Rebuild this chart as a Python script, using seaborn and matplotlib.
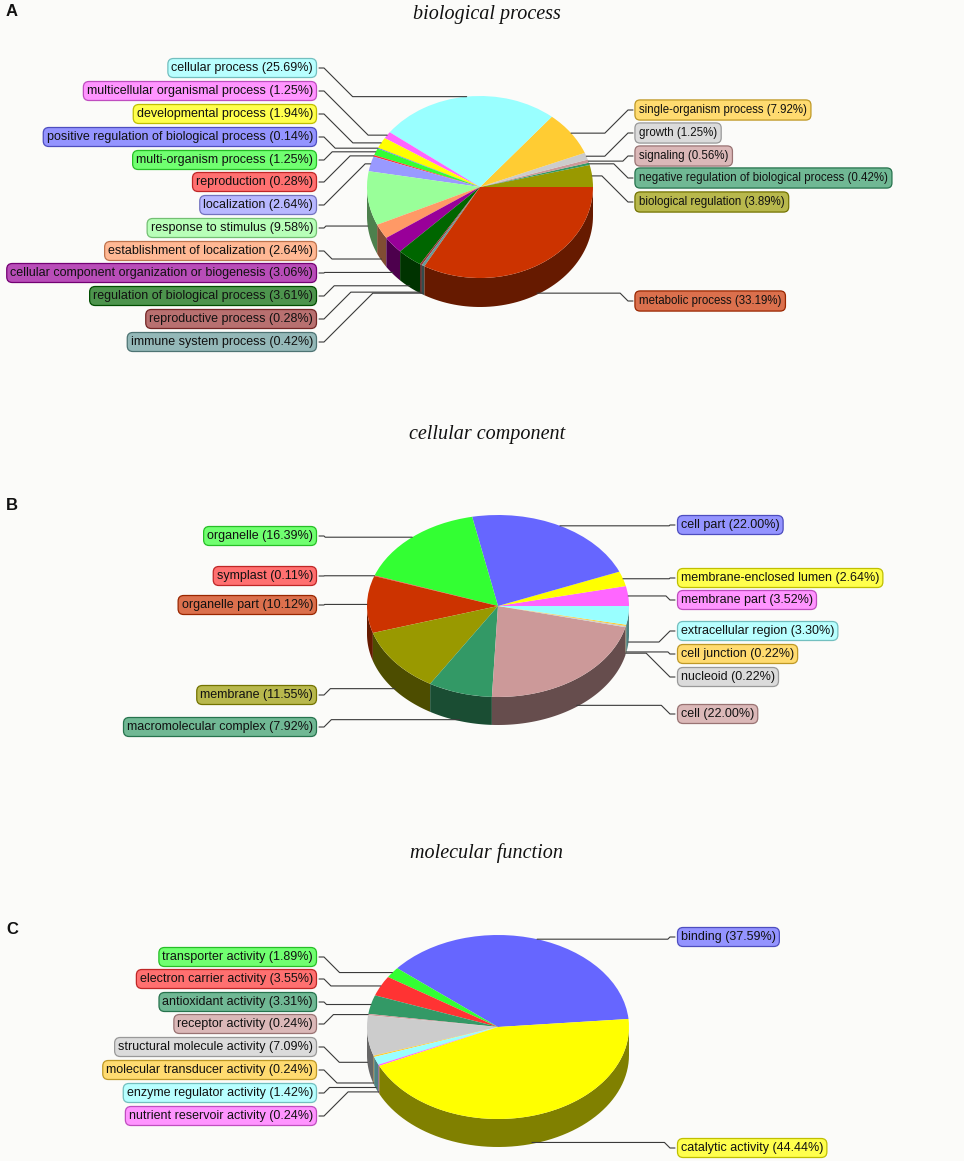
import numpy as np
import matplotlib
matplotlib.use("Agg")
import matplotlib.pyplot as plt
import seaborn as sns
from matplotlib.patches import Polygon
from matplotlib.colors import to_rgb

# ---- data (pie order: counter-clockwise from the start angle) ----
bp_names = ["biological regulation", "negative regulation of biological process", "signaling",
            "growth", "single-organism process", "cellular process",
            "multicellular organismal process", "developmental process",
            "positive regulation of biological process", "multi-organism process",
            "reproduction", "localization", "response to stimulus",
            "establishment of localization", "cellular component organization or biogenesis",
            "regulation of biological process", "reproductive process",
            "immune system process", "metabolic process"]
bp_values = [3.89, 0.42, 0.56, 1.25, 7.92, 25.69, 1.25, 1.94, 0.14, 1.25,
             0.28, 2.64, 9.58, 2.64, 3.06, 3.61, 0.28, 0.42, 33.19]
bp_colors = ["#999900", "#339966", "#cc9999", "#cccccc", "#ffcc33", "#99ffff",
             "#ff66ff", "#ffff00", "#6666ff", "#33ff33", "#ff3333", "#9999ff",
             "#99ff99", "#ff9966", "#990099", "#006600", "#993333", "#669999", "#cc3300"]

cc_names = ["membrane part", "membrane-enclosed lumen", "cell part", "organelle",
            "symplast", "organelle part", "membrane", "macromolecular complex",
            "cell", "nucleoid", "cell junction", "extracellular region"]
cc_values = [3.52, 2.64, 22.00, 16.39, 0.11, 10.12, 11.55, 7.92, 22.00, 0.22, 0.22, 3.30]
cc_colors = ["#ff66ff", "#ffff00", "#6666ff", "#33ff33", "#ff3333", "#cc3300",
             "#999900", "#339966", "#cc9999", "#cccccc", "#ffcc33", "#99ffff"]

mf_names = ["binding", "transporter activity", "electron carrier activity",
            "antioxidant activity", "receptor activity", "structural molecule activity",
            "molecular transducer activity", "enzyme regulator activity",
            "nutrient reservoir activity", "catalytic activity"]
mf_values = [37.59, 1.89, 3.55, 3.31, 0.24, 7.09, 0.24, 1.42, 0.24, 44.44]
mf_colors = ["#6666ff", "#33ff33", "#ff3333", "#339966", "#cc9999", "#cccccc",
             "#ffcc33", "#99ffff", "#ff66ff", "#ffff00"]

# ---- label layout (side of the pie and row in pixels) ----
bp_side = ["R"] * 5 + ["L"] * 13 + ["R"]
bp_row = [202, 178, 156, 133, 110, 68, 91, 114, 137, 160, 182, 205, 228,
          251, 273, 296, 319, 342, 301]
cc_side = ["R", "R", "R", "L", "L", "L", "L", "L", "R", "R", "R", "R"]
cc_row = [600, 578, 525, 536, 576, 605, 695, 727, 714, 677, 654, 631]
mf_side = ["R"] + ["L"] * 8 + ["R"]
mf_row = [937, 957, 979, 1002, 1024, 1047, 1070, 1093, 1116, 1148]

W, H = 964, 1161
sns.set_theme(style="white")
plt.rcParams["font.family"] = ["Liberation Sans", "DejaVu Sans"]

fig = plt.figure(figsize=(W / 100, H / 100), dpi=100)
fig.patch.set_facecolor("#fbfbf9")

over = fig.add_axes([0, 0, 1, 1], zorder=5)
over.set_xlim(0, W)
over.set_ylim(H, 0)
over.axis("off")
over.patch.set_alpha(0)


def mix(c, other, t):
    c = np.array(to_rgb(c))
    o = np.array(to_rgb(other))
    return tuple(c * (1 - t) + o * t)


def label_box(col, fs):
    # keep the box height the same whatever the font size
    p = (9 * 1.17 + 2 * 0.28 * 9 - fs * 1.17) / (2 * fs)
    return dict(boxstyle="round,pad=%.3f,rounding_size=0.45" % p,
                fc=mix(col, "white", 0.3), ec=mix(col, "black", 0.25), lw=0.9)


def draw_panel(names, values, colors, side, rows, cx, cy, rx, ry, depth, start,
               left_edge, right_edge, title, letter, title_y, letter_y, right_fs=9):
    d = depth / ry
    pad = 1.08
    ax_w = 2 * pad * rx
    ax_h = (2 * pad + d) * ry
    x0 = cx - pad * rx
    y_top = cy - pad * ry
    ax = fig.add_axes([x0 / W, 1 - (y_top + ax_h) / H, ax_w / W, ax_h / H])
    wedges, _ = ax.pie(values, colors=colors, startangle=start, counterclock=True,
                       wedgeprops=dict(linewidth=0), normalize=True)
    ax.set_aspect("auto")
    ax.set_xlim(-pad, pad)
    ax.set_ylim(-pad - d, pad)
    ax.axis("off")

    # side of the cylinder: front part of every wedge, shaded darker
    for w, col in zip(wedges, colors):
        t1, t2 = w.theta1, w.theta2
        for lo, hi in [(-180, 0), (180, 360), (540, 720)]:
            a, b = max(t1, lo), min(t2, hi)
            if b <= a:
                continue
            ts = np.radians(np.linspace(a, b, 60))
            top = np.column_stack([np.cos(ts), np.sin(ts)])
            bot = np.column_stack([np.cos(ts), np.sin(ts) - d])[::-1]
            ax.add_patch(Polygon(np.vstack([top, bot]), closed=True,
                                 fc=mix(col, "black", 0.5), ec="none", zorder=0))

    # labels with leader lines
    for w, name, val, col, s, yl in zip(wedges, names, values, colors, side, rows):
        mid = np.radians((w.theta1 + w.theta2) / 2)
        xa = cx + rx * np.cos(mid)
        ya = cy - ry * np.sin(mid)
        if np.sin(mid) < 0:
            ya += depth * 0.95
        txt = f"{name} ({val:.2f}%)"
        if s == "L":
            over.text(left_edge - 4, yl, txt, ha="right", va="center", fontsize=9,
                      color="#111111", bbox=label_box(col, 9))
            xs = left_edge + 2
            xk = min(xs + 5 + abs(ya - yl), xa)
            over.plot([xs, xs + 5, xk, xa], [yl, yl, ya, ya], color="#3a3a3a", lw=0.8)
        else:
            over.text(right_edge + 4, yl, txt, ha="left", va="center", fontsize=right_fs,
                      color="#111111", bbox=label_box(col, right_fs))
            xs = right_edge - 2
            xk = max(xs - 5 - abs(ya - yl), xa)
            over.plot([xs, xs - 5, xk, xa], [yl, yl, ya, ya], color="#3a3a3a", lw=0.8)

    over.text(487, title_y, title, ha="center", va="center", fontsize=14.5,
              style="italic", family="Liberation Serif", color="#111111")
    over.text(6, letter_y, letter, ha="left", va="center", fontsize=12,
              fontweight="bold", color="#111111")


draw_panel(bp_names, bp_values, bp_colors, bp_side, bp_row,
           cx=480, cy=187, rx=113, ry=91, depth=29, start=0,
           left_edge=317, right_edge=635, title="biological process",
           letter="A", title_y=14, letter_y=11, right_fs=8.3)
draw_panel(cc_names, cc_values, cc_colors, cc_side, cc_row,
           cx=498, cy=606, rx=131, ry=91, depth=28, start=0,
           left_edge=317, right_edge=677, title="cellular component",
           letter="B", title_y=435, letter_y=506)
draw_panel(mf_names, mf_values, mf_colors, mf_side, mf_row,
           cx=498, cy=1027, rx=131, ry=92, depth=28, start=5,
           left_edge=317, right_edge=677, title="molecular function",
           letter="C", title_y=853, letter_y=929)

fig.savefig("out.png", dpi=100, facecolor=fig.get_facecolor())
